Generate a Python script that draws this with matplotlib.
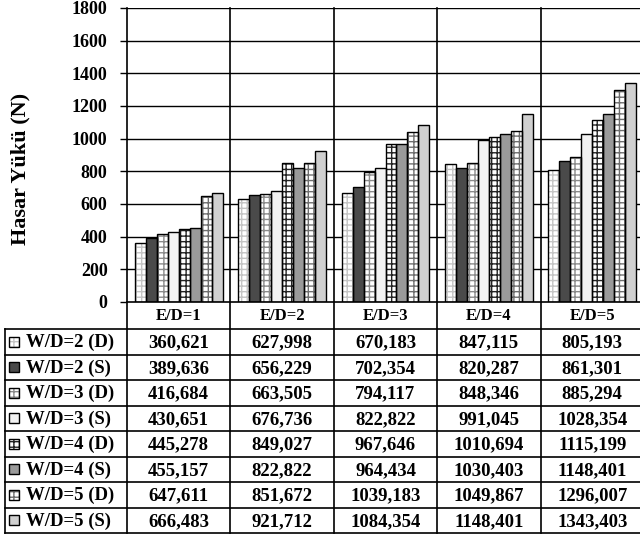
import matplotlib
matplotlib.use('Agg')
import matplotlib.pyplot as plt
import matplotlib.transforms as mtransforms
from matplotlib.patches import Rectangle

# ---- data ----
categories = ['E/D=1', 'E/D=2', 'E/D=3', 'E/D=4', 'E/D=5']
series_names = ['W/D=2 (D)', 'W/D=2 (S)', 'W/D=3 (D)', 'W/D=3 (S)',
                'W/D=4 (D)', 'W/D=4 (S)', 'W/D=5 (D)', 'W/D=5 (S)']
wd2_d = [360.621, 627.998, 670.183, 847.115, 805.193]
wd2_s = [389.636, 656.229, 702.354, 820.287, 861.301]
wd3_d = [416.684, 663.505, 794.117, 848.346, 885.294]
wd3_s = [430.651, 676.736, 822.822, 991.045, 1028.354]
wd4_d = [445.278, 849.027, 967.646, 1010.694, 1115.199]
wd4_s = [455.157, 822.822, 964.434, 1030.403, 1148.401]
wd5_d = [647.611, 851.672, 1039.183, 1049.867, 1296.007]
wd5_s = [666.483, 921.712, 1084.354, 1148.401, 1343.403]
series = [wd2_d, wd2_s, wd3_d, wd3_s, wd4_d, wd4_s, wd5_d, wd5_s]
yticks = [0, 200, 400, 600, 800, 1000, 1200, 1400, 1600, 1800]

# face colour, hatch, hatch colour
styles = [('white', '+++', '#c4c4c4'),
          ('#4a4a4a', '', '#4a4a4a'),
          ('white', '+++', '#8a8a8a'),
          ('#f2f2f2', '', '#f2f2f2'),
          ('white', '+++', '#222222'),
          ('#9a9a9a', '', '#9a9a9a'),
          ('white', '+++', '#6e6e6e'),
          ('#d0d0d0', '', '#d0d0d0')]

plt.rcParams['font.family'] = ['Liberation Serif', 'DejaVu Serif']
plt.rcParams['font.weight'] = 'bold'
plt.rcParams['hatch.linewidth'] = 1.0

W, H = 640, 536
fig = plt.figure(figsize=(6.4, 5.36), dpi=100)

# pixel layout
ax_l, ax_r, ax_top, ax_bot = 127, 644, 8, 302
tab_l, cat_bot, row_h = 5, 329, 25.5
tab_bot = cat_bot + row_h * len(series)

ax = fig.add_axes([ax_l / W, (H - ax_bot) / H, (ax_r - ax_l) / W, (ax_bot - ax_top) / H])
ax.set_xlim(-0.5, len(categories) - 0.5)
ax.set_ylim(0, 1800)
ax.set_yticks(yticks)
ax.set_yticklabels([str(t) for t in yticks], fontsize=13, fontweight='bold')
ax.set_xticks([])
ax.tick_params(axis='y', direction='out', length=5, width=1, pad=9, colors='black')
for s in ax.spines.values():
    s.set_visible(False)
for t in yticks[1:]:
    ax.axhline(t, color='black', lw=1, zorder=1)

n = len(series)
bw = 0.106
xs = list(range(len(categories)))
for k, vals in enumerate(series):
    fc, hatch, hc = styles[k]
    pos = [x + (k - (n - 1) / 2) * bw for x in xs]
    ax.bar(pos, vals, bw, color=fc, hatch=hatch, edgecolor=hc, linewidth=0, zorder=2)
    ax.bar(pos, vals, bw, fill=False, edgecolor='black', linewidth=1, zorder=3)

fig.text(20 / W, 1 - 169 / H, 'Hasar Yükü (N)', rotation=90, ha='center', va='center',
         fontsize=16, fontweight='bold')

# overlay in pixel coordinates for the data table
ov = fig.add_axes([0, 0, 1, 1], facecolor='none')
ov.set_xlim(0, W)
ov.set_ylim(H, 0)
ov.axis('off')
bt = mtransforms.blended_transform_factory(ax.transData, ov.transData)

# vertical lines (axis + group separators) running through the table
for b in range(len(categories) + 1):
    ov.plot([b - 0.5, b - 0.5], [ax_top, tab_bot], color='black', lw=1.2, transform=bt,
            clip_on=False)
ov.plot([ax_l, ax_r], [ax_bot, ax_bot], color='black', lw=1.2)
ov.plot([tab_l, tab_l], [cat_bot, tab_bot], color='black', lw=1.2)
for r in range(len(series) + 1):
    y = cat_bot + r * row_h
    ov.plot([tab_l, ax_r], [y, y], color='black', lw=1.2)

for i, c in enumerate(categories):
    ov.text(i, (ax_bot + cat_bot) / 2 + 1, c, transform=bt, ha='center', va='center',
            fontsize=12, fontweight='bold')

for k, vals in enumerate(series):
    yc = cat_bot + (k + 0.5) * row_h
    fc, hatch, hc = styles[k]
    ov.add_patch(Rectangle((9, yc - 5), 10, 10, facecolor=fc, hatch=hatch, edgecolor=hc,
                           linewidth=0))
    ov.add_patch(Rectangle((9, yc - 5), 10, 10, fill=False, edgecolor='black', linewidth=1))
    ov.text(26, yc + 1, series_names[k], ha='left', va='center', fontsize=13.5,
            fontweight='bold')
    for i, v in enumerate(vals):
        ov.text(i, yc + 1, f'{v:.3f}'.replace('.', ','), transform=bt, ha='center',
                va='center', fontsize=13.5, fontweight='bold')

fig.savefig('out.png', dpi=100)
